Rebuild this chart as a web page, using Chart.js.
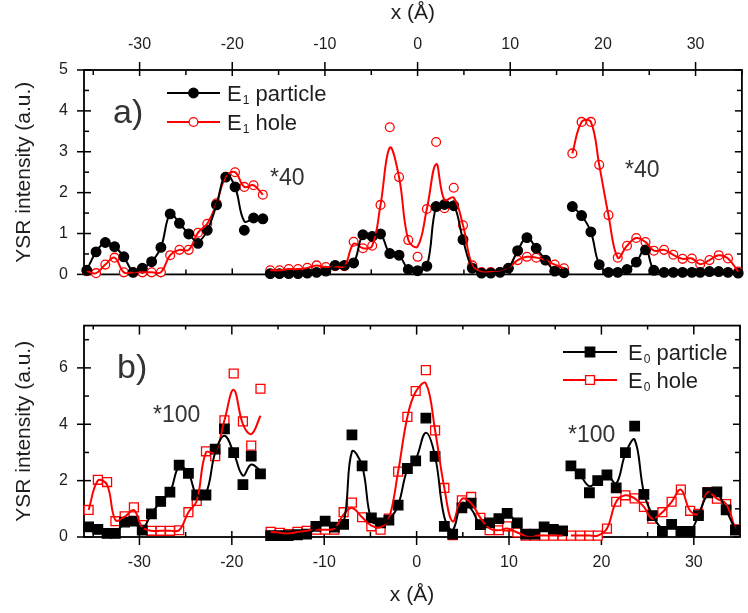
<!DOCTYPE html>
<html><head><meta charset="utf-8">
<script src="https://cdn.jsdelivr.net/npm/chart.js@4"></script>
<style>
html,body{margin:0;padding:0;background:#fff;}
#wrap{position:relative;width:748px;height:613px;overflow:hidden;}
canvas{position:absolute;left:0;}
#ca{top:0;} #cb{top:300px;}
</style></head><body>
<div id="wrap"><canvas id="ca" width="748" height="300"></canvas><canvas id="cb" width="748" height="313"></canvas></div>
<script>
// ---------------- data: panel a (E1, *40 scaling in side groups) ----------------
const aXLeft  = [-35.7,-34.7,-33.7,-32.7,-31.7,-30.7,-29.7,-28.7,-27.7,-26.7,-25.7,-24.7,-23.7,-22.7,-21.7,-20.7,-19.7,-18.7,-17.7,-16.7];
const aXMid   = [-15.9,-14.9,-13.9,-12.9,-11.9,-10.9,-9.9,-8.9,-7.9,-6.9,-5.9,-4.9,-4.0,-3.0,-2.0,-1.0,0.0,1.0,2.0,2.9,3.9,4.9,5.9,6.9,7.9,8.9,9.8,10.8,11.8,12.8,13.8,14.8,15.8];
const aXRight = [16.7,17.7,18.7,19.6,20.6,21.6,22.6,23.6,24.6,25.5,26.6,27.6,28.6,29.6,30.5,31.5,32.5,33.5,34.6];

const e1ParticleLeft  = [0.1,0.55,0.78,0.68,0.43,0.05,0.15,0.31,0.66,1.48,1.25,0.99,0.76,1.08,1.7,2.38,2.14,1.08,1.38,1.36];
const e1ParticleMid   = [0.02,0.02,0.02,0.02,0.03,0.05,0.08,0.22,0.22,0.28,0.97,0.93,0.99,0.51,0.47,0.12,0.09,0.2,1.66,1.71,1.68,0.85,0.15,0.03,0.03,0.05,0.15,0.58,0.9,0.64,0.35,0.08,0.04];
const e1ParticleRight = [1.66,1.44,1.04,0.24,0.05,0.05,0.12,0.3,0.6,0.1,0.05,0.05,0.05,0.05,0.05,0.07,0.07,0.05,0.03];
const e1ParticleFitLeft  = [0.1,0.55,0.78,0.68,0.43,0.08,0.15,0.31,0.66,1.48,1.25,0.99,0.8,1.08,1.7,2.45,2.14,1.3,1.36,1.36];
const e1ParticleFitMid   = [0.02,0.02,0.02,0.02,0.03,0.05,0.08,0.22,0.22,0.28,0.97,0.95,0.99,0.51,0.47,0.12,0.09,0.2,1.66,1.75,1.7,0.85,0.15,0.03,0.03,0.05,0.15,0.58,0.9,0.64,0.35,0.08,0.04];
const e1ParticleFitRight = [1.66,1.44,1.04,0.24,0.05,0.05,0.12,0.3,0.64,0.1,0.05,0.05,0.05,0.05,0.05,0.07,0.07,0.05,0.03];

const e1HoleLeft  = [0.08,0.03,0.24,0.41,0.05,0.05,0.05,0.05,0.05,0.47,0.6,0.6,1.02,1.24,1.74,2.39,2.5,2.14,2.18,1.95];
const e1HoleMid   = [0.1,0.1,0.13,0.13,0.16,0.22,0.18,0.2,0.2,0.8,0.64,0.7,1.7,3.6,2.38,0.84,0.43,1.6,3.24,1.62,2.12,1.2,0.22,0.06,0.06,0.06,0.15,0.35,0.43,0.41,0.35,0.24,0.15];
const e1HoleRight = [2.96,3.73,3.73,2.68,1.45,0.41,0.7,0.89,0.79,0.58,0.6,0.48,0.38,0.39,0.25,0.35,0.47,0.39,0.07];
const e1HoleFitMid = [0.1,0.1,0.13,0.13,0.16,0.22,0.18,0.2,0.2,0.75,0.64,0.7,1.7,3.1,2.38,0.84,0.68,1.6,2.7,1.82,1.88,1.2,0.22,0.06,0.06,0.06,0.15,0.35,0.43,0.41,0.35,0.24,0.15];

// ---------------- data: panel b (E0, *100 scaling in side groups) ----------------
const bXLeft  = [-35.5,-34.5,-33.5,-32.6,-31.6,-30.6,-29.7,-28.7,-27.7,-26.7,-25.7,-24.7,-23.8,-22.8,-21.8,-20.8,-19.8,-18.8,-17.9,-16.9];
const bXMid   = [-15.8,-14.8,-13.9,-12.9,-11.9,-10.9,-9.9,-8.9,-7.9,-7.0,-5.9,-4.9,-3.9,-3.0,-2.0,-1.0,-0.1,1.0,2.0,3.0,3.9,4.9,5.9,6.9,7.9,8.9,9.8,10.9,11.8,12.8,13.8,14.8,15.8];
const bXRight = [16.7,17.7,18.7,19.6,20.6,21.6,22.6,23.6,24.6,25.5,26.6,27.6,28.6,29.6,30.5,31.5,32.5,33.5,34.5];

const e0ParticleLeft  = [0.36,0.27,0.13,0.13,0.53,0.56,0.24,0.82,1.26,1.59,2.55,2.26,1.49,1.49,3.12,3.84,2.99,1.86,2.87,2.24];
const e0ParticleMid   = [0.05,0.05,0.05,0.08,0.1,0.38,0.56,0.35,0.45,3.62,2.52,0.68,0.5,0.6,1.13,2.43,2.7,4.22,2.86,0.38,0.1,1.03,1.2,0.44,0.5,0.65,0.84,0.5,0.1,0.1,0.36,0.27,0.22];
const e0ParticleRight = [2.52,2.24,1.57,2.0,2.2,1.74,2.99,3.93,1.51,0.76,0.2,0.45,0.2,0.2,0.76,1.57,1.6,0.96,0.24];
const e0ParticleFitLeft  = [0.36,0.25,0.13,0.15,0.5,0.5,0.3,0.82,1.26,1.59,2.5,2.26,1.5,1.55,3.0,3.59,2.99,2.18,2.57,2.35];
const e0ParticleFitMid   = [0.05,0.05,0.05,0.08,0.1,0.3,0.45,0.35,0.5,3.03,2.52,0.6,0.45,0.6,1.13,2.4,2.75,3.7,2.86,0.7,0.25,1.2,1.0,0.44,0.45,0.6,0.8,0.5,0.1,0.1,0.3,0.27,0.22];
const e0ParticleFitRight = [2.52,2.2,1.8,2.0,2.2,1.9,2.96,3.45,1.57,0.8,0.3,0.4,0.2,0.2,0.76,1.5,1.55,0.96,0.24];

const e0HoleLeft  = [0.96,2.03,1.95,0.56,0.73,1.05,0.42,0.22,0.22,0.22,0.24,0.88,1.28,3.04,2.87,4.14,5.8,4.1,3.24,5.26];
const e0HoleMid   = [0.18,0.15,0.1,0.18,0.22,0.26,0.26,0.26,0.88,1.22,0.7,0.38,0.26,0.65,2.32,4.26,5.18,5.92,3.78,1.74,0.07,1.3,1.42,0.68,0.24,0.24,0.38,0.16,0.05,0.05,0.05,0.05,0.05];
const e0HoleRight = [0.05,0.05,0.05,0.05,0.3,1.25,1.48,1.37,1.07,0.65,0.88,1.25,1.68,0.93,0.82,1.59,1.36,1.17,0.27];
const e0HoleFitLeft = [0.96,2.0,1.85,0.6,0.72,0.95,0.35,0.22,0.22,0.22,0.24,0.88,1.28,3.0,3.0,4.14,5.22,4.0,3.65,4.3];
const e0HoleFitMid  = [0.18,0.15,0.12,0.18,0.22,0.26,0.26,0.3,0.8,1.03,0.7,0.4,0.35,0.65,2.32,4.26,5.15,5.45,3.78,1.74,0.55,1.35,1.2,0.68,0.3,0.24,0.3,0.16,0.05,0.05,0.05,0.05,0.05];

// ---------------- axis / label text ----------------
const xTitle = 'x (Å)';
const yTitle = 'YSR intensity (a.u.)';
const labelsA = { panel: 'a)', scale: '*40', particle: ['E', '1', ' particle'], hole: ['E', '1', ' hole'] };
const labelsB = { panel: 'b)', scale: '*100', particle: ['E', '0', ' particle'], hole: ['E', '0', ' hole'] };

// ---------------- helpers ----------------
const FONT = '"Liberation Sans", Arial, sans-serif';
const INK = '#1e1e1e';
const RED = '#ff0000';

function pts(xs, ys) { return xs.map((x, i) => ({ x: x, y: ys[i] })); }
function joinGroups(groups) {
  const out = [];
  groups.forEach(function (g, gi) {
    if (gi > 0) out.push({ x: (out[out.length - 1].x + g[0][0]) / 2, y: null });
    out.push.apply(out, pts(g[0], g[1]));
  });
  return out;
}

const frameTicks = {
  id: 'frameTicks',
  beforeDatasetsDraw(chart, args, o) {
    const ctx = chart.ctx, a = chart.chartArea;
    const xs = chart.scales.x, ys = chart.scales.y;
    ctx.save();
    ctx.strokeStyle = '#000';
    ctx.lineWidth = 1.8;
    ctx.strokeRect(a.left, a.top, a.right - a.left, a.bottom - a.top);
    ctx.lineWidth = 1.5;
    const line = (x1, y1, x2, y2) => { ctx.beginPath(); ctx.moveTo(x1, y1); ctx.lineTo(x2, y2); ctx.stroke(); };
    const walk = (scale, step, fn) => {
      const majors = scale.ticks.map(t => t.value);
      const start = Math.ceil((scale.min - 1e-9) / step) * step;
      for (let k = 0; ; k++) {
        const v = start + k * step;
        if (v > scale.max + 1e-9) break;
        const isMajor = majors.some(m => Math.abs(m - v) < 1e-6);
        fn(scale.getPixelForValue(v), isMajor);
      }
    };
    walk(xs, o.xStep, (px, M) => {
      const t = o.top, b = o.bottom;
      if (M) { line(px, a.top - t[0], px, a.top + t[1]); line(px, a.bottom + b[0], px, a.bottom - b[1]); }
      else { line(px, a.top, px, a.top + t[2]); line(px, a.bottom, px, a.bottom - b[2]); }
    });
    walk(ys, o.yStep, (py, M) => {
      const l = o.left, r = o.right;
      if (M) { line(a.left - l[0], py, a.left + l[1], py); line(a.right + r[0], py, a.right - r[1], py); }
      else { line(a.left, py, a.left + l[2], py); line(a.right, py, a.right - r[2], py); }
    });
    ctx.restore();
  }
};

function drawMarker(ctx, style, x, y, r, fill, stroke, bw) {
  ctx.beginPath();
  if (style === 'rect') { const s = r * Math.SQRT1_2; ctx.rect(x - s, y - s, 2 * s, 2 * s); }
  else { ctx.arc(x, y, r, 0, Math.PI * 2); }
  ctx.fillStyle = fill; ctx.fill();
  if (bw) { ctx.lineWidth = bw; ctx.strokeStyle = stroke; ctx.stroke(); }
}

const overlay = {
  id: 'overlay',
  afterDraw(chart, args, o) {
    const ctx = chart.ctx;
    ctx.save();
    ctx.fillStyle = '#333';
    (o.texts || []).forEach(t => {
      ctx.font = t.size + 'px ' + FONT;
      ctx.textBaseline = 'alphabetic';
      ctx.textAlign = 'left';
      ctx.fillText(t.text, t.x, t.y);
    });
    (o.legend || []).forEach(L => {
      const ds = chart.data.datasets[L.ds];
      ctx.strokeStyle = L.color; ctx.lineWidth = 2;
      ctx.beginPath(); ctx.moveTo(L.x1, L.y); ctx.lineTo(L.x2, L.y); ctx.stroke();
      drawMarker(ctx, ds.pointStyle, (L.x1 + L.x2) / 2, L.y, ds.pointRadius, ds.pointBackgroundColor, ds.pointBorderColor, ds.pointBorderWidth);
      ctx.fillStyle = INK;
      ctx.textBaseline = 'alphabetic';
      let x = L.tx;
      ctx.font = '22px ' + FONT; ctx.fillText(L.parts[0], x, L.y + 8); x += ctx.measureText(L.parts[0]).width + 1;
      ctx.font = '12px ' + FONT; ctx.fillText(L.parts[1], x, L.y + 11); x += ctx.measureText(L.parts[1]).width;
      ctx.font = '22px ' + FONT; ctx.fillText(L.parts[2], x, L.y + 8);
    });
    ctx.restore();
  }
};

function curveDs(data, color) {
  return { data: data, borderColor: color, borderWidth: 2, pointRadius: 0, pointHoverRadius: 0, tension: 0.4, spanGaps: false, fill: false, clip: false };
}
function markerDs(data, style, r, fill, stroke) {
  return { data: data, showLine: false, pointStyle: style, pointRadius: r, pointHoverRadius: r,
    pointBackgroundColor: fill, pointBorderColor: stroke, pointBorderWidth: 1.3, borderColor: stroke, clip: false };
}

function makeOptions(cfg) {
  return {
    responsive: false, devicePixelRatio: 1, animation: false, events: [],
    layout: { padding: cfg.padding },
    plugins: { legend: { display: false }, tooltip: { enabled: false },
      frameTicks: cfg.frame, overlay: cfg.overlay },
    scales: {
      x: { type: 'linear', position: cfg.xPos, min: -36, max: 35,
        ticks: { stepSize: 10, includeBounds: false, padding: 16, color: INK, font: { family: FONT, size: 16 } },
        grid: { display: false, drawTicks: false }, border: { display: false },
        title: { display: true, text: xTitle, color: INK, font: { family: FONT, size: 21 }, padding: cfg.xTitlePad },
        afterFit: s => { s.height = cfg.xHeight; } },
      y: { type: 'linear', min: 0, max: cfg.yMax,
        ticks: { stepSize: cfg.yStep, includeBounds: false, padding: 16, color: INK, font: { family: FONT, size: 16 } },
        grid: { display: false, drawTicks: false }, border: { display: false },
        title: { display: true, text: yTitle, color: INK, font: { family: FONT, size: 21 }, padding: { top: 12, bottom: 0 } },
        afterFit: s => { s.width = 84; } }
    }
  };
}

// ---------------- panel a ----------------
new Chart(document.getElementById('ca'), {
  type: 'line',
  data: { datasets: [
    curveDs(joinGroups([[aXLeft, e1ParticleFitLeft], [aXMid, e1ParticleFitMid], [aXRight, e1ParticleFitRight]]), '#000'),
    curveDs(joinGroups([[aXLeft, e1HoleLeft], [aXMid, e1HoleFitMid], [aXRight, e1HoleRight]]), RED),
    markerDs(pts(aXLeft.concat(aXMid, aXRight), e1ParticleLeft.concat(e1ParticleMid, e1ParticleRight)), 'circle', 4.8, '#000', '#000'),
    markerDs(pts(aXLeft.concat(aXMid, aXRight), e1HoleLeft.concat(e1HoleMid, e1HoleRight)), 'circle', 4.4, '#fff', RED)
  ] },
  options: makeOptions({
    padding: { left: 0, right: 1, top: 0, bottom: 13 }, xPos: 'top', xHeight: 70, xTitlePad: { top: 1, bottom: 0 },
    yMax: 5, yStep: 1,
    frame: { xStep: 5, yStep: 0.5, top: [8, 6, 5], bottom: [0, 6, 5], left: [7, 7, 5], right: [0, 7, 5] },
    overlay: {
      texts: [
        { text: labelsA.panel, x: 113, y: 123, size: 34 },
        { text: labelsA.scale, x: 270, y: 185, size: 23 },
        { text: labelsA.scale, x: 625, y: 177, size: 23 }
      ],
      legend: [
        { ds: 2, color: '#000', x1: 167, x2: 220, y: 93, tx: 227, parts: labelsA.particle },
        { ds: 3, color: RED, x1: 167, x2: 220, y: 122, tx: 227, parts: labelsA.hole }
      ]
    }
  }),
  plugins: [frameTicks, overlay]
});

// ---------------- panel b ----------------
new Chart(document.getElementById('cb'), {
  type: 'line',
  data: { datasets: [
    curveDs(joinGroups([[bXLeft, e0ParticleFitLeft], [bXMid, e0ParticleFitMid], [bXRight, e0ParticleFitRight]]), '#000'),
    curveDs(joinGroups([[bXLeft, e0HoleFitLeft], [bXMid, e0HoleFitMid], [bXRight, e0HoleRight]]), RED),
    markerDs(pts(bXLeft.concat(bXMid, bXRight), e0ParticleLeft.concat(e0ParticleMid, e0ParticleRight)), 'rect', 6.7, '#000', '#000'),
    markerDs(pts(bXLeft.concat(bXMid, bXRight), e0HoleLeft.concat(e0HoleMid, e0HoleRight)), 'rect', 6.3, '#fff', RED)
  ] },
  options: makeOptions({
    padding: { left: 0, right: 1, top: 20, bottom: 0 }, xPos: 'bottom', xHeight: 76, xTitlePad: { top: 0, bottom: 5 },
    yMax: 7.5, yStep: 2,
    frame: { xStep: 5, yStep: 1, top: [0, 9, 4], bottom: [8, 6, 5], left: [7, 7, 5], right: [0, 7, 5] },
    overlay: {
      texts: [
        { text: labelsB.panel, x: 117, y: 78, size: 34 },
        { text: labelsB.scale, x: 153, y: 122, size: 23 },
        { text: labelsB.scale, x: 568, y: 142, size: 23 }
      ],
      legend: [
        { ds: 2, color: '#000', x1: 563, x2: 617, y: 52, tx: 628, parts: labelsB.particle },
        { ds: 3, color: RED, x1: 563, x2: 617, y: 80, tx: 628, parts: labelsB.hole }
      ]
    }
  }),
  plugins: [frameTicks, overlay]
});
</script>
</body></html>
